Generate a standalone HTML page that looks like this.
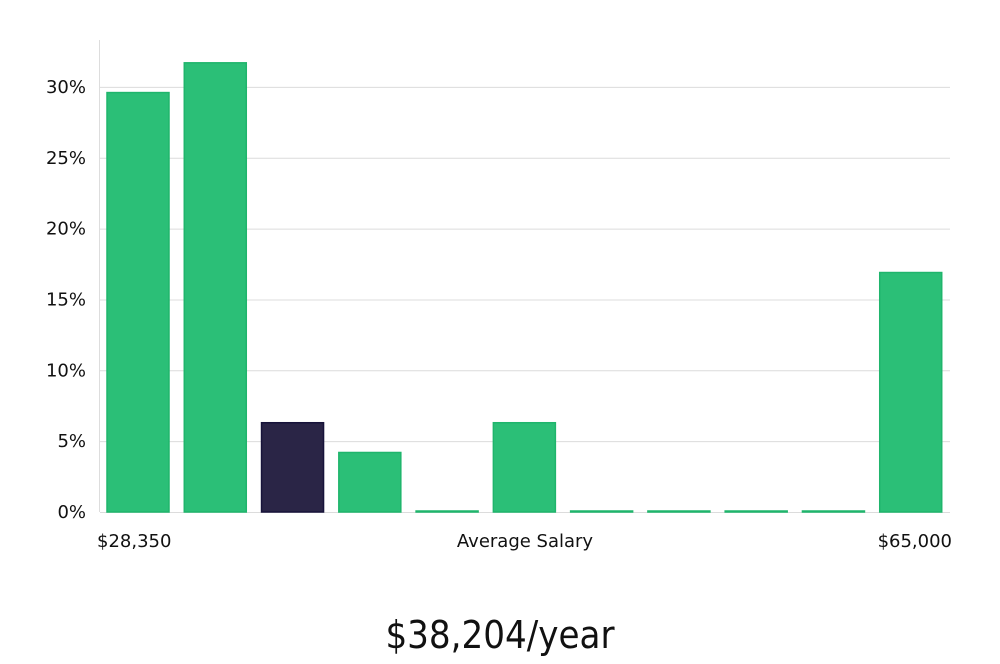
<!DOCTYPE html>
<html><head><meta charset="utf-8"><style>
body{margin:0;background:#fff;width:1000px;height:660px;overflow:hidden;font-family:"DejaVu Sans","Liberation Sans",sans-serif;}
</style></head><body>
<svg width="1000" height="660" xmlns="http://www.w3.org/2000/svg">
<g id="grid"></g>
<g id="bars"></g>
<g id="labels"></g>
<text x="97" y="547" font-size="18" fill="#111">$28,350</text>
<text x="525" y="547" font-size="18" fill="#111" text-anchor="middle">Average Salary</text>
<text x="952" y="547" font-size="18" fill="#111" text-anchor="end">$65,000</text>
<text x="500" y="648" font-size="38" fill="#111" text-anchor="middle" font-family="'Liberation Sans Narrow','DejaVu Sans Condensed','Liberation Sans',sans-serif">$38,204/year</text>
</svg>
<script>
const values=[29.6,31.7,6.3,4.2,0,6.3,0,0,0,0,16.9];
const highlight=[false,false,true,false,false,false,false,false,false,false,false];
const yTicks=[0,5,10,15,20,25,30];
const yTickLabels=["0%","5%","10%","15%","20%","25%","30%"];
const NS="http://www.w3.org/2000/svg";
const x0=100,x1=950,y0=512,pxPer=14.17;
const y=v=>y0-v*pxPer;
const pitch=(x1-x0)/values.length,bw=62;
const grid=document.getElementById('grid'),bars=document.getElementById('bars'),labels=document.getElementById('labels');
function mk(tag,attrs,parent){const e=document.createElementNS(NS,tag);for(const k in attrs)e.setAttribute(k,attrs[k]);parent.appendChild(e);return e;}
const ax=mk('line',{x1:99.5,x2:99.5,y1:40,y2:y0,stroke:'#ddd'},grid);


yTicks.forEach((t,i)=>{
  const l=mk('line',{x1:x0,x2:x1,y1:y(t)+0.5,y2:y(t)+0.5,stroke:'#dcdcdc'},grid);
  
  
  const tx=mk('text',{x:86,y:y(t)+6,'font-size':18,fill:'#111','text-anchor':'end'},labels);
  tx.textContent=yTickLabels[i];
  
  
});
values.forEach((v,i)=>{
  const bx=x0+7+i*pitch;
  const h=Math.max(v*pxPer,1);
  const r=mk('rect',{x:bx,y:y0-h,width:bw,height:h,fill:highlight[i]?'#2a2546':'#2bbf77',stroke:highlight[i]?'#17133a':'#1fb56c','stroke-width':1.5},bars);
  
  
});
</script>
</body></html>
